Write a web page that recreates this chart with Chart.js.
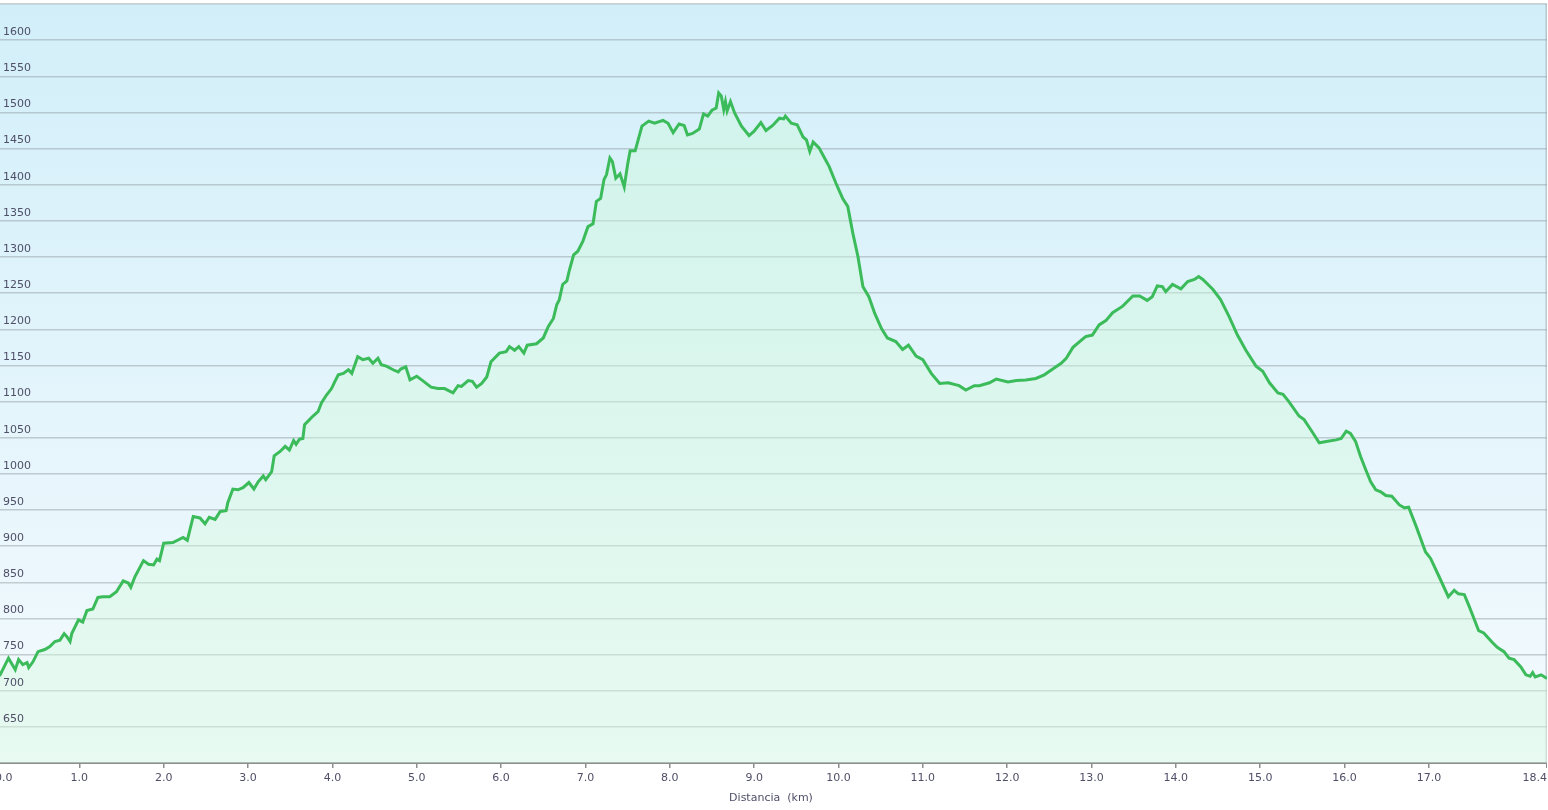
<!DOCTYPE html>
<html><head><meta charset="utf-8">
<script src="https://cdn.jsdelivr.net/npm/chart.js@4"></script>
<style>
html,body{margin:0;padding:0;background:#fff;overflow:hidden;width:1548px;height:810px;}
#wrap{position:absolute;left:-5px;top:0;width:1552px;height:810px;}
</style></head><body>
<div id="wrap"><canvas id="c"></canvas></div>
<script>
const distanceKm = [0.00,0.06,0.16,0.24,0.28,0.33,0.38,0.40,0.45,0.51,0.59,0.65,0.71,0.77,0.82,0.85,0.89,0.91,0.99,1.04,
1.09,1.16,1.22,1.28,1.36,1.44,1.52,1.58,1.61,1.66,1.76,1.82,1.88,1.92,1.95,2.00,2.11,2.23,2.28,2.35,
2.43,2.49,2.54,2.61,2.67,2.74,2.76,2.82,2.88,2.94,3.01,3.07,3.12,3.18,3.21,3.28,3.31,3.38,3.44,3.49,
3.54,3.57,3.61,3.65,3.67,3.72,3.77,3.83,3.87,3.93,3.99,4.03,4.07,4.13,4.19,4.23,4.30,4.36,4.43,4.48,
4.54,4.58,4.64,4.72,4.78,4.81,4.87,4.92,5.00,5.07,5.17,5.25,5.33,5.43,5.49,5.53,5.61,5.66,5.71,5.77,
5.83,5.88,5.98,6.06,6.10,6.16,6.21,6.27,6.31,6.42,6.50,6.56,6.62,6.66,6.69,6.73,6.78,6.81,6.86,6.91,
6.97,7.03,7.09,7.13,7.18,7.22,7.25,7.29,7.32,7.36,7.41,7.46,7.50,7.53,7.59,7.67,7.75,7.82,7.92,7.98,
8.04,8.11,8.17,8.21,8.27,8.35,8.40,8.45,8.50,8.55,8.58,8.61,8.64,8.66,8.68,8.72,8.77,8.85,8.94,9.00,
9.08,9.14,9.22,9.30,9.35,9.37,9.44,9.51,9.58,9.62,9.66,9.70,9.77,9.83,9.89,9.97,10.05,10.11,10.17,10.23,
10.29,10.36,10.43,10.51,10.58,10.68,10.76,10.83,10.92,11.00,11.10,11.20,11.30,11.43,11.51,11.61,11.67,11.79,11.87,12.01,
12.11,12.22,12.34,12.44,12.54,12.64,12.70,12.78,12.88,12.93,13.01,13.09,13.17,13.25,13.37,13.49,13.57,13.66,13.72,13.78,
13.84,13.88,13.96,14.06,14.14,14.22,14.27,14.32,14.44,14.53,14.63,14.73,14.83,14.95,15.03,15.11,15.21,15.27,15.34,15.46,
15.52,15.60,15.70,15.80,15.90,15.96,16.02,16.07,16.13,16.19,16.25,16.31,16.37,16.43,16.49,16.56,16.65,16.71,16.76,16.85,
16.96,17.02,17.12,17.23,17.30,17.35,17.42,17.48,17.59,17.65,17.75,17.81,17.89,17.95,18.01,18.09,18.15,18.20,18.23,18.26,
18.33,18.40];
const elevationM = [718,722,745,729,743,736,739,732,740,754,757,761,768,770,779,775,768,779,798,795,
811,813,829,830,830,837,852,849,843,858,880,875,874,882,880,904,905,912,908,941,
939,931,940,937,948,949,960,979,978,981,988,979,989,997,992,1003,1025,1031,1038,1033,
1046,1041,1048,1049,1068,1074,1080,1086,1098,1109,1118,1128,1137,1139,1144,1139,1162,1158,1160,1153,
1160,1151,1149,1144,1141,1145,1148,1130,1135,1129,1120,1118,1118,1112,1122,1121,1129,1128,1120,1125,
1134,1155,1167,1169,1176,1171,1176,1167,1178,1180,1188,1204,1215,1234,1241,1262,1267,1282,1303,1308,
1322,1342,1346,1377,1381,1407,1414,1437,1432,1409,1415,1397,1428,1447,1447,1481,1488,1485,1489,1485,
1472,1484,1482,1469,1471,1477,1498,1495,1503,1506,1527,1523,1504,1515,1502,1515,1499,1481,1468,1474,
1486,1475,1482,1492,1491,1495,1485,1483,1466,1462,1446,1459,1451,1438,1425,1402,1381,1370,1333,1301,
1259,1245,1222,1201,1188,1183,1172,1178,1163,1158,1139,1125,1126,1122,1116,1122,1122,1126,1131,1127,
1129,1130,1132,1137,1145,1153,1160,1175,1185,1190,1192,1206,1212,1223,1232,1246,1246,1240,1245,1260,
1259,1252,1262,1256,1266,1269,1273,1269,1255,1241,1218,1192,1171,1149,1142,1126,1112,1110,1100,1080,
1075,1061,1043,1045,1047,1049,1059,1056,1045,1024,1006,989,978,975,970,969,957,953,954,927,
892,883,858,830,839,834,833,816,783,780,767,760,754,745,743,733,722,720,725,719,
722,717];
const xTickValues = [0,1,2,3,4,5,6,7,8,9,10,11,12,13,14,15,16,17,18.4];
const yMin = 600, yMax = 1650, yStep = 50;
const axisTitle = 'Distancia  (km)';

const FONT = {family: "'DejaVu Sans', Verdana, sans-serif", size: 11};
const TEXT_COLOR = '#4f4f68';
const GRID_COLOR = 'rgba(150,160,165,0.5)';

const bgPlugin = {
  id: 'bgPlugin',
  beforeDraw(chart) {
    const {ctx, chartArea: a} = chart;
    if (!a) return;
    const g = ctx.createLinearGradient(0, a.top, 0, a.bottom);
    g.addColorStop(0, '#d2eff9');
    g.addColorStop(1, '#f4fafe');
    ctx.save();
    ctx.fillStyle = g;
    ctx.fillRect(a.left, a.top, a.right - a.left, a.bottom - a.top);
    ctx.restore();
  },
  beforeDatasetsDraw(chart) {
    const {ctx, chartArea: a} = chart;
    ctx.save();
    ctx.strokeStyle = GRID_COLOR;
    ctx.lineWidth = 1.5;
    ctx.beginPath();
    ctx.moveTo(a.right - 0.75, a.top);
    ctx.lineTo(a.right - 0.75, a.bottom);
    ctx.stroke();
    ctx.restore();
  }
};

new Chart(document.getElementById('c'), {
  type: 'line',
  data: {
    datasets: [{
      data: distanceKm.map((d, i) => ({x: d, y: elevationM[i]})),
      borderColor: '#3bbb5a',
      borderWidth: 3,
      pointRadius: 0,
      tension: 0,
      fill: 'start',
      backgroundColor: (ctx) => {
        const a = ctx.chart.chartArea;
        if (!a) return 'rgba(205,248,215,0.4)';
        const g = ctx.chart.ctx.createLinearGradient(0, a.top, 0, a.bottom);
        g.addColorStop(0, 'rgba(200,248,215,0.42)');
        g.addColorStop(1, 'rgba(215,250,222,0.42)');
        return g;
      }
    }]
  },
  options: {
    responsive: true,
    maintainAspectRatio: false,
    animation: false,
    layout: {padding: {top: 4, left: 0, right: 0, bottom: 0}},
    plugins: {legend: {display: false}, tooltip: {enabled: false}},
    scales: {
      x: {
        type: 'linear',
        min: 0, max: 18.4,
        afterBuildTicks: (s) => { s.ticks = xTickValues.map(v => ({value: v})); },
        afterFit: (s) => { s.height = 47; s.paddingLeft = 0; s.paddingRight = 0; },
        border: {display: true, color: '#8e8e8e', width: 2},
        grid: {drawOnChartArea: false, drawTicks: true, tickLength: 5, color: '#8e8e8e', lineWidth: 1.5},
        ticks: {
          align: 'inner', padding: 4, autoSkip: false, maxRotation: 0,
          color: TEXT_COLOR, font: FONT,
          callback: (v) => Number(v).toFixed(1)
        },
        title: {display: true, text: axisTitle, color: TEXT_COLOR, font: FONT, padding: {top: 4, bottom: 5}}
      },
      y: {
        min: yMin, max: yMax,
        afterFit: (s) => { s.width = 0; s.paddingTop = 0; s.paddingBottom = 0; },
        border: {display: false},
        grid: {color: GRID_COLOR, lineWidth: 1.5, drawTicks: false},
        ticks: {
          z: 1,
          stepSize: yStep, mirror: true, padding: 8, labelOffset: -8,
          color: TEXT_COLOR, font: FONT,
          callback: (v) => (v === yMin || v === yMax) ? '' : String(v)
        }
      }
    }
  },
  plugins: [bgPlugin]
});
</script>
</body></html>
